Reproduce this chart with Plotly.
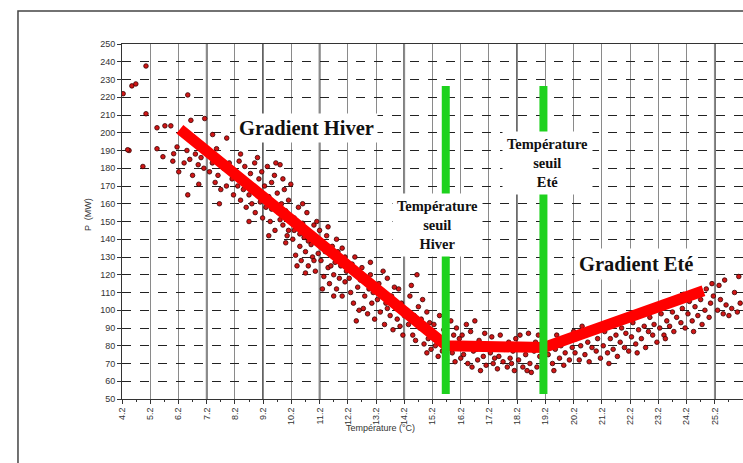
import plotly.graph_objects as go

# ---------------- data ----------------
temp = [
    4.24, 4.55, 4.69, 5.05, 5.05, 4.45, 4.94, 4.40,
    5.44, 5.72, 5.93, 5.44, 5.65, 6.03, 6.53, 6.00, 6.15,
    6.21, 6.53, 6.64, 6.92, 7.13, 6.50, 6.60, 6.80, 6.90, 7.00, 7.10, 6.70, 6.40, 7.20, 6.95,
    7.41, 7.55, 7.91, 7.30, 7.50, 7.60, 7.80, 8.00, 7.70, 7.90, 8.10, 7.40, 8.15, 7.65, 8.05,
    8.25, 8.30, 8.35, 8.40, 8.45, 8.50, 8.55, 8.60, 8.62, 8.70, 8.75, 8.80, 8.85, 8.90, 8.92,
    9.00, 9.05, 9.10, 9.15, 9.18, 8.40, 8.70, 9.00,
    9.25, 9.30, 9.35, 9.40, 9.45, 9.50, 9.55, 9.60, 9.62, 9.70, 9.75, 9.80, 9.85, 9.90, 9.95,
    10.00, 10.05, 10.10, 10.15, 10.18, 9.40, 9.65, 9.90, 10.00, 9.50, 9.80, 10.10,
    10.25, 10.30, 10.35, 10.40, 10.45, 10.50, 10.55, 10.60, 10.65, 10.70, 10.75, 10.80, 10.85,
    10.90, 10.95, 11.00, 11.05, 11.10, 11.15, 11.20, 10.40, 10.60, 10.80, 11.00, 10.30, 10.70,
    11.10, 10.50,
    11.25, 11.30, 11.35, 11.40, 11.45, 11.50, 11.55, 11.60, 11.65, 11.70, 11.75, 11.80, 11.85,
    11.90, 11.95, 12.00, 12.05, 12.10, 12.15, 11.50, 11.80, 12.00, 11.30, 11.70, 12.10, 11.60,
    12.25, 12.30, 12.35, 12.40, 12.50, 12.55, 12.60, 12.65, 12.70, 12.80, 12.85, 12.90, 12.95,
    13.00, 13.05, 13.10, 13.15, 12.45, 12.75, 13.00, 12.50,
    13.25, 13.30, 13.35, 13.40, 13.50, 13.55, 13.60, 13.70, 13.75, 13.80, 13.90, 13.95, 14.00,
    14.05, 14.10, 14.15, 13.45, 13.85, 13.60, 14.20,
    14.30, 14.35, 14.40, 14.50, 14.55, 14.60, 14.70, 14.75, 14.80, 14.90, 14.95, 15.00, 15.05,
    15.10, 15.15, 14.45, 14.85, 15.00, 14.65, 15.20,
    15.25, 15.30, 15.35, 15.40, 15.45, 15.50, 15.55, 15.60, 15.70, 15.75, 15.85, 15.90, 15.95,
    16.00, 16.05, 16.10, 16.15, 16.20, 15.65,
    16.25, 16.30, 16.40, 16.45, 16.50, 16.55, 16.60, 16.65, 16.70, 16.80, 16.85, 16.90, 16.95,
    17.00, 17.05, 17.10, 17.15, 16.75,
    17.25, 17.30, 17.35, 17.45, 17.50, 17.55, 17.60, 17.70, 17.75, 17.85, 17.90, 17.95, 18.05,
    18.10, 18.15, 17.40, 18.00,
    18.25, 18.30, 18.40, 18.45, 18.50, 18.60, 18.65, 18.70, 18.80, 18.85, 18.90, 19.00, 19.05,
    19.10, 18.55, 18.95,
    19.30, 19.40, 19.45, 19.55, 19.60, 19.70, 19.75, 19.85, 19.90, 20.00, 20.05, 20.15, 20.20, 19.50,
    20.25, 20.30, 20.40, 20.45, 20.55, 20.60, 20.70, 20.75, 20.85, 20.90, 21.00, 21.05, 21.15, 20.50,
    21.25, 21.30, 21.40, 21.50, 21.55, 21.60, 21.70, 21.75, 21.85, 21.90, 22.00, 22.05, 22.15, 21.45,
    22.25, 22.30, 22.40, 22.50, 22.55, 22.60, 22.70, 22.75, 22.85, 22.90, 23.00, 23.05, 23.15,
    22.45, 23.10,
    23.25, 23.30, 23.40, 23.50, 23.55, 23.60, 23.70, 23.75, 23.85, 23.90, 24.00, 24.05, 24.15,
    23.45, 24.10,
    24.25, 24.30, 24.40, 24.50, 24.55, 24.60, 24.70, 24.75, 24.85, 24.90, 25.00, 25.05, 25.15,
    24.45, 25.10,
    25.30, 25.40, 25.50, 25.60, 25.70, 25.80, 25.90, 26.00, 26.10, 25.35, 25.55, 26.05,
]
power = [
    222, 226.4, 227.5, 237.6, 210.7, 190, 181, 190.4,
    202.8, 203.9, 203.9, 191, 186.5, 188.2, 221.3, 184, 192,
    178, 165, 207, 171, 208, 190, 185, 188, 182, 186, 180, 176, 183, 191, 193,
    199, 191, 197, 178, 172, 176, 180, 183, 168, 170, 174, 183, 165, 160, 178,
    178, 170, 184, 162, 175, 168, 181, 158, 172, 165, 177, 160, 170, 183, 155,
    168, 174, 161, 178, 152, 188, 150, 186,
    170, 158, 181, 164, 150, 172, 160, 176, 145, 166, 155, 182, 160, 148, 168,
    156, 142, 162, 150, 171, 142, 183, 174, 138, 157, 151, 145,
    140, 152, 131, 146, 158, 136, 128, 149, 141, 133, 155, 125, 144,
    137, 130, 148, 122, 139, 132, 145, 125, 160, 139, 128, 145, 121,
    150, 143,
    128, 138, 119, 133, 142, 124, 115, 131, 136, 120, 127, 112, 133,
    118, 125, 108, 129, 116, 122, 147, 140, 135, 112, 108, 130, 125,
    118, 110, 126, 104, 121, 113, 100, 117, 124, 108, 115, 98, 112,
    120, 104, 110, 95, 130, 101, 127, 94,
    106, 115, 99, 110, 92, 104, 118, 97, 108, 89, 101, 95, 112,
    91, 104, 86, 122, 113, 101, 97,
    100, 92, 108, 86, 97, 83, 102, 90, 95, 81, 88, 99, 84,
    93, 78, 114, 106, 76, 120, 87,
    92, 80, 86, 74, 97, 83, 77, 89, 72, 81, 94, 76, 86,
    71, 90, 79, 84, 73, 100,
    86, 75, 92, 70, 81, 88, 68, 77, 94, 72, 83, 66, 79,
    74, 87, 69, 80, 78,
    76, 85, 70, 80, 67, 74, 86, 71, 78, 68, 82, 73, 77,
    66, 84, 73, 70,
    72, 86, 68, 79, 75, 87, 70, 65, 77, 82, 68, 74, 79,
    71, 66, 86,
    75, 81, 70, 78, 86, 73, 80, 69, 76, 83, 72, 79, 88, 66,
    76, 84, 72, 80, 87, 75, 82, 71, 79, 89, 77, 84, 73, 91,
    80, 88, 76, 84, 92, 78, 86, 74, 82, 90, 79, 87, 77, 70,
    85, 93, 81, 89, 97, 84, 91, 79, 88, 96, 86, 92, 82,
    76, 100,
    90, 98, 86, 94, 103, 91, 99, 88, 96, 106, 93, 101, 90,
    84, 109,
    98, 105, 94, 102, 110, 97, 106, 92, 100, 112, 96, 104, 108,
    88, 115,
    100, 106, 98, 103, 97, 101, 110, 99, 104, 114, 117, 119,
]

# fitted gradient line (winter slope, plateau, summer slope)
grad_x = [6.25, 15.7, 19.15, 24.8]
grad_y = [202, 80, 79, 111]

# threshold temperatures (green bars)
seuil_hiver = 15.67
seuil_ete = 19.13
bar_span = [52.8, 226.4]

x_ticks = [4.2 + i for i in range(23)]
x_tick_labels = [f"{v:.1f}" for v in x_ticks]
y_ticks = list(range(50, 251, 10))
dark_grid = [7.2, 9.2, 11.2, 14.2, 18.2, 25.2]

# ---------------- figure ----------------
fig = go.Figure()

fig.add_trace(go.Scatter(
    x=temp, y=power, mode="markers",
    marker=dict(symbol="circle", size=4.6, color="#d01616",
                line=dict(color="#3a0000", width=0.8)),
    hoverinfo="skip", showlegend=False))

fig.add_trace(go.Scatter(
    x=grad_x, y=grad_y, mode="lines",
    line=dict(color="#ff0000", width=11),
    hoverinfo="skip", showlegend=False))

for xv in (seuil_hiver, seuil_ete):
    fig.add_trace(go.Scatter(
        x=[xv, xv], y=bar_span, mode="lines",
        line=dict(color="#1ed21e", width=8),
        hoverinfo="skip", showlegend=False))

shapes = []
for xv in dark_grid:
    shapes.append(dict(type="line", xref="x", yref="y", x0=xv, x1=xv, y0=50, y1=250,
                       line=dict(color="#111111", width=1.6), layer="below"))
# outer frame of the original figure
shapes.append(dict(type="rect", xref="paper", yref="paper",
                   x0=-0.1675, x1=1.3, y0=-0.5, y1=1.0927,
                   line=dict(color="#444444", width=1.5), fillcolor="rgba(0,0,0,0)"))

serif = "Liberation Serif, Times New Roman, serif"
annotations = [
    dict(x=10.73, y=202.8, xref="x", yref="y", text="<b>Gradient Hiver</b>",
         showarrow=False, font=dict(family=serif, size=20.5, color="#111"),
         bgcolor="white", borderpad=3),
    dict(x=22.41, y=125.8, xref="x", yref="y", text="<b>Gradient Eté</b>",
         showarrow=False, font=dict(family=serif, size=20.5, color="#111"),
         bgcolor="white", borderpad=4),
    dict(x=15.39, y=148.3, xref="x", yref="y",
         text="<b>Température<br>seuil<br>Hiver</b>",
         showarrow=False, font=dict(family=serif, size=14.5, color="#111"),
         bgcolor="white", borderpad=4),
    dict(x=19.27, y=183.2, xref="x", yref="y",
         text="<b>Température<br>seuil<br>Eté</b>",
         showarrow=False, font=dict(family=serif, size=14.5, color="#111"),
         bgcolor="white", borderpad=4),
    dict(x=(380 - 122) / 621, y=-(428 - 399) / 355, xref="paper", yref="paper",
         xanchor="center", yanchor="middle",
         text="Température (°C)", showarrow=False,
         font=dict(family="Liberation Sans, Arial", size=9, color="#333")),
    dict(x=-(122 - 88) / 621, y=(399 - 215) / 355, xref="paper", yref="paper",
         xanchor="center", yanchor="middle",
         text="P  (MW)", textangle=-90, showarrow=False,
         font=dict(family="Liberation Sans, Arial", size=9, color="#333")),
]

fig.update_layout(
    width=743, height=463,
    margin=dict(l=122, r=0, t=44, b=64),
    paper_bgcolor="white", plot_bgcolor="white",
    showlegend=False,
    shapes=shapes, annotations=annotations,
    font=dict(family="Liberation Sans, Arial", size=9, color="#333"),
)

fig.update_xaxes(
    range=[4.2, 26.2], tickmode="array", tickvals=x_ticks, ticktext=x_tick_labels,
    tickangle=-90, ticks="outside", ticklen=4, tickcolor="#333",
    minor=dict(dtick=0.5, tick0=4.7, ticks="outside", ticklen=2, tickcolor="#333", showgrid=False),
    showgrid=True, gridcolor="#8a8a8a", gridwidth=1,
    showline=True, linecolor="#333", linewidth=1, mirror=True,
    zeroline=False, automargin=False, tickfont=dict(size=9, color="#333"),
)
fig.update_yaxes(
    range=[50, 250], tickmode="array", tickvals=y_ticks,
    ticks="outside", ticklen=4, tickcolor="#333",
    showgrid=True, gridcolor="#222", gridwidth=1, griddash="dash",
    showline=True, linecolor="#333", linewidth=1, mirror=False,
    zeroline=False, automargin=False, tickfont=dict(size=9, color="#333"),
)

# remove the browser's default page margin so the figure fills the window exactly
fig.write_html("out.html", config={"displayModeBar": False},
               post_script="document.body.style.margin='0';document.body.style.overflow='hidden';")
